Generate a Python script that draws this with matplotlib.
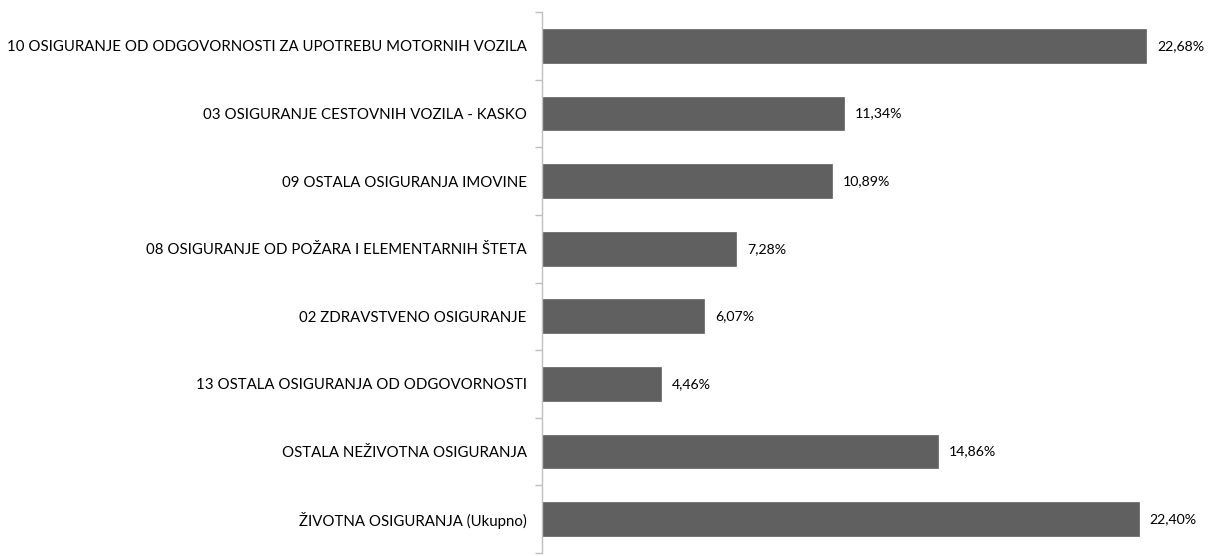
import matplotlib
matplotlib.use("Agg")
import matplotlib.pyplot as plt
import numpy as np

categories = [
    "10 OSIGURANJE OD ODGOVORNOSTI ZA UPOTREBU MOTORNIH VOZILA",
    "03 OSIGURANJE CESTOVNIH VOZILA - KASKO",
    "09 OSTALA OSIGURANJA IMOVINE",
    "08 OSIGURANJE OD POŽARA I ELEMENTARNIH ŠTETA",
    "02 ZDRAVSTVENO OSIGURANJE",
    "13 OSTALA OSIGURANJA OD ODGOVORNOSTI",
    "OSTALA NEŽIVOTNA OSIGURANJA",
    "ŽIVOTNA OSIGURANJA (Ukupno)",
]
values = [22.68, 11.34, 10.89, 7.28, 6.07, 4.46, 14.86, 22.40]
value_labels = ["22,68%", "11,34%", "10,89%", "7,28%", "6,07%", "4,46%", "14,86%", "22,40%"]

plt.rcParams['font.family'] = ['Lato', 'DejaVu Sans']

W, H = 1210, 556
fig = plt.figure(figsize=(W / 100, H / 100), dpi=100)
ax = fig.add_axes([542 / W, (H - 553) / H, (1208 - 542) / W, (553 - 12) / H])

n = len(categories)
y = np.arange(n)
ax.barh(y, values, height=0.5, color="#606060", edgecolor="#606060", linewidth=0.5)
ax.set_ylim(n - 0.5, -0.5)
ax.set_xlim(0, 25)

for yi, v, lab in zip(y, values, value_labels):
    ax.annotate(lab, (v, yi), xytext=(8, 0), textcoords="offset points",
                va="center", ha="left", fontsize=10.2, color="#000000")

ax.set_yticks(y)
ax.set_yticklabels(categories, fontsize=10.8, color="#000000")
ax.tick_params(axis="y", length=0, pad=11)
ax.set_yticks(np.arange(n + 1) - 0.5, minor=True)
ax.tick_params(axis="y", which="minor", length=5, color="#bfbfbf", width=1)
ax.set_xticks([])

for s in ["top", "right", "bottom"]:
    ax.spines[s].set_visible(False)
ax.spines["left"].set_color("#bfbfbf")
ax.spines["left"].set_linewidth(1)

fig.savefig("out.png", dpi=100)
